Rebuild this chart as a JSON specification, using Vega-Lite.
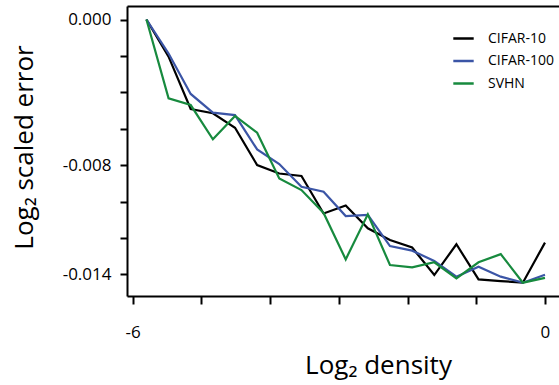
{
  "$schema": "https://vega.github.io/schema/vega-lite/v6.json",
  "width": 432,
  "height": 290,
  "autosize": {"type": "none"},
  "padding": {"left": 127, "top": 6, "right": 0, "bottom": 89},
  "background": "white",
  "config": {
    "view": {"stroke": null},
    "font": "Open Sans",
    "axis": {"domainColor": "black", "domainWidth": 2, "tickColor": "black", "tickWidth": 2, "labelColor": "black", "titleColor": "black", "grid": false, "labelFont": "Open Sans", "titleFont": "Open Sans", "titleFontWeight": "normal"}
  },
  "data": {
    "values": [
      {"x": -5.8, "s": "CIFAR-10", "v": 0},
      {"x": -5.478, "s": "CIFAR-10", "v": -0.00204},
      {"x": -5.156, "s": "CIFAR-10", "v": -0.00492},
      {"x": -4.833, "s": "CIFAR-10", "v": -0.00515},
      {"x": -4.511, "s": "CIFAR-10", "v": -0.00595},
      {"x": -4.189, "s": "CIFAR-10", "v": -0.0080},
      {"x": -3.867, "s": "CIFAR-10", "v": -0.00846},
      {"x": -3.544, "s": "CIFAR-10", "v": -0.0086},
      {"x": -3.222, "s": "CIFAR-10", "v": -0.01066},
      {"x": -2.9, "s": "CIFAR-10", "v": -0.01022},
      {"x": -2.578, "s": "CIFAR-10", "v": -0.01147},
      {"x": -2.256, "s": "CIFAR-10", "v": -0.01212},
      {"x": -1.933, "s": "CIFAR-10", "v": -0.01253},
      {"x": -1.611, "s": "CIFAR-10", "v": -0.01404},
      {"x": -1.289, "s": "CIFAR-10", "v": -0.01235},
      {"x": -0.967, "s": "CIFAR-10", "v": -0.01428},
      {"x": -0.644, "s": "CIFAR-10", "v": -0.01437},
      {"x": -0.322, "s": "CIFAR-10", "v": -0.01446},
      {"x": 0, "s": "CIFAR-10", "v": -0.01226},
      {"x": -5.8, "s": "CIFAR-100", "v": 0},
      {"x": -5.478, "s": "CIFAR-100", "v": -0.00187},
      {"x": -5.156, "s": "CIFAR-100", "v": -0.00409},
      {"x": -4.833, "s": "CIFAR-100", "v": -0.00512},
      {"x": -4.511, "s": "CIFAR-100", "v": -0.00525},
      {"x": -4.189, "s": "CIFAR-100", "v": -0.00714},
      {"x": -3.867, "s": "CIFAR-100", "v": -0.00794},
      {"x": -3.544, "s": "CIFAR-100", "v": -0.00919},
      {"x": -3.222, "s": "CIFAR-100", "v": -0.00946},
      {"x": -2.9, "s": "CIFAR-100", "v": -0.0108},
      {"x": -2.578, "s": "CIFAR-100", "v": -0.01074},
      {"x": -2.256, "s": "CIFAR-100", "v": -0.01245},
      {"x": -1.933, "s": "CIFAR-100", "v": -0.0127},
      {"x": -1.611, "s": "CIFAR-100", "v": -0.01327},
      {"x": -1.289, "s": "CIFAR-100", "v": -0.01413},
      {"x": -0.967, "s": "CIFAR-100", "v": -0.01358},
      {"x": -0.644, "s": "CIFAR-100", "v": -0.01413},
      {"x": -0.322, "s": "CIFAR-100", "v": -0.01446},
      {"x": 0, "s": "CIFAR-100", "v": -0.01402},
      {"x": -5.8, "s": "SVHN", "v": 0},
      {"x": -5.478, "s": "SVHN", "v": -0.00433},
      {"x": -5.156, "s": "SVHN", "v": -0.0047},
      {"x": -4.833, "s": "SVHN", "v": -0.00658},
      {"x": -4.511, "s": "SVHN", "v": -0.0053},
      {"x": -4.189, "s": "SVHN", "v": -0.00622},
      {"x": -3.867, "s": "SVHN", "v": -0.00873},
      {"x": -3.544, "s": "SVHN", "v": -0.00937},
      {"x": -3.222, "s": "SVHN", "v": -0.01063},
      {"x": -2.9, "s": "SVHN", "v": -0.01318},
      {"x": -2.578, "s": "SVHN", "v": -0.0107},
      {"x": -2.256, "s": "SVHN", "v": -0.01349},
      {"x": -1.933, "s": "SVHN", "v": -0.01362},
      {"x": -1.611, "s": "SVHN", "v": -0.01334},
      {"x": -1.289, "s": "SVHN", "v": -0.01422},
      {"x": -0.967, "s": "SVHN", "v": -0.01334},
      {"x": -0.644, "s": "SVHN", "v": -0.01289},
      {"x": -0.322, "s": "SVHN", "v": -0.01446},
      {"x": 0, "s": "SVHN", "v": -0.0142}
    ]
  },
  "layer": [
    {
      "mark": {"type": "line", "strokeWidth": 2.2, "clip": true},
      "encoding": {
        "x": {
          "field": "x", "type": "quantitative",
          "scale": {"domain": [-6.083, 0.204], "nice": false, "zero": false},
          "axis": {
            "orient": "bottom",
            "values": [-6, -5, -4, -3, -2, -1, 0],
            "labelExpr": "datum.value == -6 ? '-6' : datum.value == 0 ? '0' : ''",
            "labelFontSize": 17, "labelPadding": 20, "tickSize": 8,
            "title": "Log₂ density", "titleFontSize": 26,
            "titleX": 251, "titleY": 77, "titleBaseline": "alphabetic", "titleAlign": "center"
          }
        },
        "y": {
          "field": "v", "type": "quantitative",
          "scale": {"domain": [-0.015192, 0.000742], "nice": false, "zero": false},
          "axis": {
            "values": [0, -0.002, -0.004, -0.006, -0.008, -0.01, -0.012, -0.014],
            "labelExpr": "datum.value == 0 ? '0.000' : datum.value == -0.008 ? '-0.008' : datum.value == -0.014 ? '-0.014' : ''",
            "labelFontSize": 17, "labelPadding": 9, "tickSize": 7,
            "title": "Log₂ scaled error", "titleFontSize": 26,
            "titleAngle": 270, "titleX": -95, "titleY": 141, "titleBaseline": "alphabetic", "titleAlign": "center"
          }
        },
        "color": {
          "field": "s", "type": "nominal",
          "scale": {"domain": ["CIFAR-10", "CIFAR-100", "SVHN"], "range": ["#000000", "#3b55a6", "#178a3e"]},
          "legend": {
            "title": null, "orient": "none", "legendX": 325, "legendY": 21,
            "symbolType": "stroke", "symbolSize": 416, "symbolStrokeWidth": 2.5,
            "labelFontSize": 14, "labelColor": "black", "labelOffset": 13, "rowPadding": 3.5, "padding": 0
          }
        }
      }
    },
    {
      "mark": {"type": "line", "opacity": 0},
      "encoding": {
        "x": {
          "field": "x", "type": "quantitative",
          "axis": {"orient": "top", "labels": false, "ticks": false, "title": null, "domainWidth": 2}
        },
        "y": {"field": "v", "type": "quantitative"}
      }
    }
  ],
  "resolve": {"axis": {"x": "independent"}}
}
